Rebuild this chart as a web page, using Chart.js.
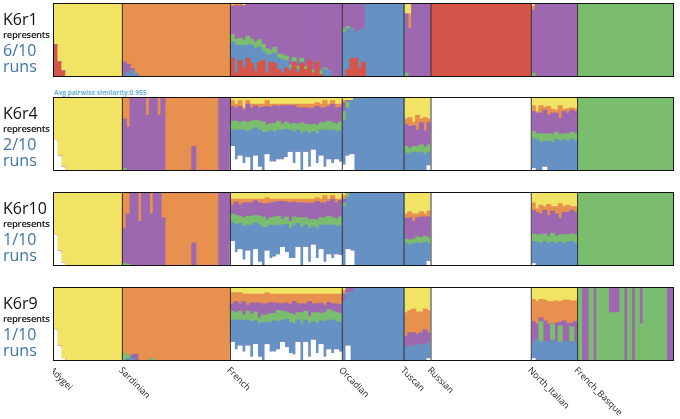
<!DOCTYPE html>
<html>
<head>
<meta charset="utf-8">
<script src="https://cdn.jsdelivr.net/npm/chart.js@4.4.1/dist/chart.umd.min.js"></script>
<style>
  body { margin: 0; background: #fff; font-family: "Open Sans", "Noto Sans", sans-serif; }
  #wrap { position: relative; width: 680px; height: 419px; overflow: hidden; }
  .panel { position: absolute; left: 53px; width: 621px; }
  .box { position: absolute; left: 53px; width: 619px; height: 72px; border: 1.5px solid #111; pointer-events: none; }
  .lab { position: absolute; left: 3px; line-height: 1; }
  .lab .k { font-size: 16px; color: #111; }
  .lab .r { font-size: 9.5px; font-weight: 600; color: #111; margin-top: 3px; letter-spacing: -0.3px; }
  .lab .n { font-size: 16px; color: #3f73a8; margin-top: 2px; }
  .lab .u { font-size: 16px; color: #3f73a8; margin-top: 0px; }
  #sim { position: absolute; left: 54px; top: 88px; font-size: 6.5px; font-weight: bold; color: #6cb3dc; }
</style>
</head>
<body>
<div id="wrap">
  <div id="sim">Avg pairwise similarity:0.955</div>
</div>
<script>
  // cluster order, bottom to top
  const CLUSTERS = [
    { name: "white",  color: "#ffffff" },
    { name: "red",    color: "#d4554a" },
    { name: "blue",   color: "#6591c4" },
    { name: "green",  color: "#7bbd6e" },
    { name: "purple", color: "#9d68b0" },
    { name: "orange", color: "#e8914f" },
    { name: "yellow", color: "#f1e464" }
  ];

  const POPS = ["Adygei", "Sardinian", "French", "Orcadian", "Tuscan", "Russian", "North_Italian", "French_Basque"];

  function rep(n, row) { return Array.from({ length: n }, () => row.slice()); }

  // rows: [white, red, blue, green, purple, orange, yellow] in %
  const runs = [
    {
      id: "K6r1", of: "6/10", top: 3,
      data: {
        Adygei: [[0,43,0,0,0,0,57],[0,20,0,0,0,0,80],[0,8,0,0,0,0,92]].concat(rep(15,[0,0,0,0,0,0,100])),
        Sardinian: [[0,0,0,0,20,80,0],[0,0,5,0,12,83,0],[0,0,8,0,3,89,0],[0,0,4,0,0,96,0]].concat(rep(24,[0,0,0,0,0,100,0])),
        French: [
          [0,25,22,10,38,2,3],[0,5,38,8,45,2,2],[0,22,20,10,44,2,2],[0,12,30,8,46,0,4],
          [0,25,18,12,45,0,0],[0,18,25,8,47,0,2],[0,8,30,9,53,0,0],[0,20,20,10,50,0,0],
          [0,22,12,10,56,0,0],[0,5,25,8,62,0,0],[0,20,10,6,64,0,0],[0,18,14,8,60,0,0],
          [0,10,15,6,69,0,0],[0,5,18,7,70,0,0],[0,12,10,6,72,0,0],[0,8,4,4,84,0,0],
          [0,20,0,6,74,0,0],[0,6,4,4,84,0,2],[0,18,2,5,75,0,0],[0,10,0,4,86,0,0],
          [0,22,0,0,78,0,0],[0,5,0,4,91,0,0],[0,20,0,0,80,0,0],[0,3,0,6,91,0,0],
          [0,0,10,2,88,0,0],[0,0,8,0,92,0,0],[0,0,0,0,100,0,0],[0,0,0,0,100,0,0],[0,0,0,0,100,0,0]
        ],
        Orcadian: [[0,0,60,5,35,0,0],[0,10,55,3,32,0,0],[0,25,40,0,35,0,0],[0,25,35,0,40,0,0],
                   [0,12,50,0,38,0,0],[0,20,45,0,35,0,0]].concat(rep(10,[0,0,100,0,0,0,0])),
        Tuscan: [[0,0,0,5,80,0,15],[0,0,0,0,65,20,15]].concat(rep(5,[0,0,0,0,100,0,0])),
        Russian: rep(26,[0,100,0,0,0,0,0]),
        North_Italian: [[0,0,0,5,85,5,5]].concat(rep(11,[0,0,0,0,100,0,0])),
        French_Basque: rep(25,[0,0,0,100,0,0,0])
      }
    },
    {
      id: "K6r4", of: "2/10", top: 97,
      data: {
        Adygei: [[42,0,0,0,0,0,58],[20,0,0,0,0,0,80],[5,0,0,0,0,0,95]].concat(rep(15,[0,0,0,0,0,0,100])),
        Sardinian: [[0,0,0,3,67,30,0],[0,0,0,0,59,41,0],[0,0,0,0,100,0,0],[0,0,0,0,100,0,0],
                    [0,0,0,0,100,0,0],[0,0,0,0,100,0,0],[0,0,0,0,75,25,0],[0,0,0,0,100,0,0],
                    [0,0,0,0,100,0,0],[0,0,0,0,75,25,0],[0,0,0,0,100,0,0]]
                    .concat(rep(7,[0,0,0,0,0,100,0]), [[0,0,0,0,33,67,0]], rep(6,[0,0,0,0,0,100,0]), rep(3,[0,0,0,0,100,0,0])),
        French: [
          [33,0,22,12,20,8,5],[15,0,40,12,18,5,10],[20,0,35,10,22,8,5],[10,0,45,12,15,3,15],
          [18,0,35,12,25,5,5],[0,0,55,12,18,5,10],[20,0,38,10,20,2,10],[5,0,50,12,18,5,10],
          [0,0,52,14,20,4,10],[22,0,30,10,25,8,5],[12,0,42,10,22,4,10],[12,0,40,12,24,2,10],
          [15,0,40,12,20,3,10],[15,0,40,8,25,2,10],[18,0,38,10,22,2,10],[25,0,30,8,25,2,10],
          [10,0,42,12,24,2,10],[25,0,30,8,22,5,10],[0,0,50,15,20,5,10],[25,0,28,10,22,5,10],
          [5,0,45,12,22,6,10],[28,0,25,10,22,5,10],[10,0,40,12,25,5,8],[20,0,35,10,20,5,10],
          [5,0,50,10,20,10,5],[15,0,40,12,20,3,10],[10,0,45,10,25,5,5],[15,0,38,10,22,5,10],[12,0,42,12,20,4,10]
        ],
        Orcadian: [[8,0,60,12,12,3,5],[20,0,65,8,2,0,5],[22,0,73,0,0,0,5]].concat(rep(13,[0,0,100,0,0,0,0])),
        Tuscan: [[0,0,24,9,30,7,30],[0,0,22,8,30,12,28],[0,0,25,8,28,5,34],[0,0,24,9,22,20,25],
                 [0,0,25,10,30,5,30],[0,0,22,10,22,18,28],[7,0,18,10,30,5,30]],
        Russian: rep(26,[100,0,0,0,0,0,0]),
        North_Italian: [[3,0,40,10,27,8,12],[0,0,42,8,28,2,20],[0,0,38,12,28,10,12],[5,0,35,10,32,4,14],
                        [0,0,40,10,25,12,13],[0,0,38,11,29,5,17],[0,0,42,10,26,4,18],[0,0,40,9,22,17,12],
                        [0,0,42,8,30,3,17],[0,0,40,10,28,6,16],[0,0,43,9,30,3,15],[0,0,40,10,30,4,16]],
        French_Basque: rep(25,[0,0,0,100,0,0,0])
      }
    },
    {
      id: "K6r10", of: "1/10", top: 192,
      data: {
        Adygei: [[42,0,0,0,0,0,58],[20,0,0,0,0,0,80],[4,0,0,0,0,0,96]].concat(rep(15,[0,0,0,0,0,0,100])),
        Sardinian: [[0,0,0,3,47,50,0],[0,0,0,2,68,30,0],[0,0,0,0,100,0,0],[0,0,0,0,100,0,0],
                    [0,0,0,0,60,40,0],[0,0,0,0,100,0,0],[0,0,0,0,100,0,0],[0,0,0,0,70,30,0],
                    [0,0,0,0,100,0,0],[0,0,0,0,100,0,0],[0,0,0,0,65,35,0]]
                    .concat(rep(7,[0,0,0,0,0,100,0]), [[0,0,0,0,31,69,0]], rep(6,[0,0,0,0,0,100,0]), rep(3,[0,0,0,0,100,0,0])),
        French: [
          [33,0,25,12,12,8,10],[18,0,38,12,18,4,10],[22,0,35,10,15,8,10],[8,0,45,12,20,5,10],
          [20,0,35,12,18,5,10],[0,0,55,12,18,5,10],[22,0,36,10,20,2,10],[5,0,50,12,18,5,10],
          [0,0,52,14,18,6,10],[20,0,32,10,22,8,8],[10,0,45,10,20,5,10],[12,0,42,12,20,4,10],
          [15,0,40,12,20,3,10],[25,0,30,8,24,3,10],[18,0,38,10,20,4,10],[10,0,40,10,25,5,10],
          [10,0,44,12,20,4,10],[25,0,32,8,20,5,10],[0,0,52,13,20,5,10],[25,0,30,10,20,5,10],
          [5,0,45,12,22,6,10],[28,0,25,10,22,5,10],[10,0,40,12,25,5,8],[22,0,33,10,20,5,10],
          [5,0,50,10,20,10,5],[15,0,40,12,20,3,10],[10,0,45,10,25,5,5],[15,0,38,10,22,5,10],[14,0,40,12,22,2,10]
        ],
        Orcadian: [[0,0,80,5,5,5,5],[22,0,70,5,0,0,3],[20,0,78,0,0,0,2]].concat(rep(13,[0,0,100,0,0,0,0])),
        Tuscan: [[0,0,30,6,28,6,30],[0,0,28,7,30,8,27],[0,0,30,6,24,10,30],[0,0,31,8,26,5,30],
                 [0,0,30,8,28,7,27],[0,0,32,8,26,4,30],[6,0,24,8,28,8,26]],
        Russian: rep(26,[100,0,0,0,0,0,0]),
        North_Italian: [[3,0,30,10,32,10,15],[0,0,32,10,30,5,23],[0,0,30,12,28,12,18],[0,0,33,10,32,5,20],
                        [0,0,30,10,28,15,17],[0,0,32,12,30,6,20],[0,0,30,10,30,10,20],[0,0,32,10,22,20,16],
                        [0,0,30,12,30,8,20],[0,0,32,10,30,10,18],[0,0,33,10,32,5,20],[0,0,30,12,30,8,20]],
        French_Basque: rep(25,[0,0,0,100,0,0,0])
      }
    },
    {
      id: "K6r9", of: "1/10", top: 287,
      data: {
        Adygei: [[42,0,0,0,0,0,58],[20,0,0,0,0,0,80],[3,0,0,0,0,0,97]].concat(rep(15,[0,0,0,0,0,0,100])),
        Sardinian: [[0,0,0,10,0,90,0],[0,0,3,5,0,92,0],[0,0,3,0,5,92,0],[0,0,0,0,9,91,0]]
                    .concat(rep(3,[0,0,0,0,0,100,0]), [[0,0,0,3,0,97,0]], rep(20,[0,0,0,0,0,100,0])),
        French: [
          [25,0,30,12,10,15,8],[15,0,40,10,15,12,8],[20,0,35,12,10,15,8],[12,0,42,8,18,10,10],
          [20,0,35,12,8,15,10],[5,0,48,10,15,12,10],[22,0,32,12,12,12,10],[5,0,45,8,20,12,10],
          [0,0,52,10,15,13,10],[22,0,30,10,15,15,8],[12,0,40,12,15,11,10],[12,0,42,10,14,12,10],
          [15,0,38,15,10,12,10],[25,0,30,12,10,13,10],[18,0,38,10,12,12,10],[10,0,42,12,12,14,10],
          [8,0,42,12,18,10,10],[25,0,30,10,12,13,10],[0,0,50,15,12,13,10],[25,0,30,12,10,13,10],
          [5,0,45,10,20,10,10],[28,0,25,12,12,13,10],[10,0,40,15,12,13,10],[22,0,32,10,14,12,10],
          [5,0,48,12,10,15,10],[15,0,40,14,10,11,10],[10,0,45,12,10,13,10],[15,0,38,12,12,13,10],[12,0,40,12,12,14,10]
        ],
        Orcadian: [[0,0,80,0,10,5,5],[20,0,72,0,8,0,0],[0,0,92,0,8,0,0]].concat(rep(13,[0,0,100,0,0,0,0])),
        Tuscan: [[0,0,18,0,15,32,35],[0,0,20,0,18,30,32],[0,0,18,0,20,32,30],[0,0,22,0,14,30,34],
                 [0,0,20,0,18,28,34],[0,0,22,0,20,28,30],[3,0,20,0,15,30,32]],
        Russian: rep(26,[100,0,0,0,0,0,0]),
        North_Italian: [[3,0,22,0,28,30,17],[0,0,28,0,22,30,20],[0,0,25,28,5,25,17],[0,0,26,0,28,28,18],
                        [0,0,25,0,25,30,20],[0,0,28,22,0,30,20],[0,0,25,0,26,30,19],[0,0,25,22,5,28,20],
                        [0,0,26,0,28,28,18],[0,0,25,0,25,32,18],[0,0,26,20,5,30,19],[0,0,25,0,28,28,19]],
        French_Basque: [[0,0,0,100,0,0,0],[0,0,0,0,100,0,0],[0,0,0,0,100,0,0],[0,0,0,100,0,0,0],
                        [0,0,0,0,100,0,0],[0,0,0,100,0,0,0],[0,0,0,100,0,0,0],[0,0,0,100,0,0,0],
                        [0,0,0,65,35,0,0],[0,0,0,65,35,0,0],[0,0,0,65,35,0,0],[0,0,0,100,0,0,0],
                        [0,0,0,0,100,0,0],[0,0,0,100,0,0,0],[0,0,0,0,100,0,0],[0,0,0,100,0,0,0],
                        [0,0,0,50,50,0,0],[0,0,0,100,0,0,0],[0,0,0,100,0,0,0],[0,0,0,100,0,0,0],
                        [0,0,0,100,0,0,0],[0,0,0,100,0,0,0],[0,0,0,100,0,0,0],[0,0,0,0,100,0,0],[0,0,0,0,100,0,0]]
      }
    }
  ];

  const wrap = document.getElementById("wrap");
  const PANEL_H = 74;
  const LABEL_SPACE = 58;

  // draws population dividers and (optionally) bottom names
  const dividerPlugin = {
    id: "dividers",
    afterDatasetsDraw(chart, args, opts) {
      const ctx = chart.ctx, x = chart.scales.x, a = chart.chartArea;
      const data = opts.data;
      let idx = 0;
      ctx.save();
      ctx.strokeStyle = "#333";
      ctx.lineWidth = 1;
      POPS.forEach(pop => {
        const left = idx === 0 ? a.left : (x.getPixelForValue(idx - 1) + x.getPixelForValue(idx)) / 2;
        if (idx > 0) {
          ctx.beginPath();
          ctx.moveTo(left, a.top);
          ctx.lineTo(left, a.bottom);
          ctx.stroke();
        }
        if (opts.names) {
          ctx.save();
          ctx.translate(left - 2, a.bottom + 8);
          ctx.rotate(Math.PI / 4);
          ctx.fillStyle = "#222";
          ctx.font = "9px 'Open Sans', sans-serif";
          ctx.textBaseline = "middle";
          ctx.fillText(pop, 0, 0);
          ctx.restore();
        }
        idx += data[pop].length;
      });
      ctx.restore();
    }
  };

  runs.forEach((run, r) => {
    const last = r === runs.length - 1;
    const div = document.createElement("div");
    div.className = "panel";
    div.style.top = run.top + "px";
    div.style.height = (PANEL_H + (last ? LABEL_SPACE : 0)) + "px";
    const canvas = document.createElement("canvas");
    div.appendChild(canvas);
    wrap.appendChild(div);

    const box = document.createElement("div");
    box.className = "box";
    box.style.top = run.top + "px";
    wrap.appendChild(box);

    const lab = document.createElement("div");
    lab.className = "lab";
    lab.style.top = (run.top + 8) + "px";
    lab.innerHTML = `<div class="k">${run.id}</div><div class="r">represents</div><div class="n">${run.of}</div><div class="u">runs</div>`;
    wrap.appendChild(lab);

    let rows = [];
    POPS.forEach(p => { rows = rows.concat(run.data[p]); });
    const labels = rows.map((_, i) => i);

    new Chart(canvas, {
      type: "bar",
      data: {
        labels: labels,
        datasets: CLUSTERS.map((c, k) => ({
          label: c.name,
          data: rows.map(row => row[k]),
          backgroundColor: c.color,
          borderWidth: 0,
          barPercentage: 1,
          categoryPercentage: 1,
          inflateAmount: 0.6
        }))
      },
      options: {
        responsive: true,
        maintainAspectRatio: false,
        animation: false,
        layout: { padding: { bottom: last ? LABEL_SPACE : 0 } },
        plugins: {
          legend: { display: false },
          tooltip: { enabled: false },
          dividers: { names: last, data: run.data }
        },
        scales: {
          x: { stacked: true, display: false },
          y: { stacked: true, display: false, min: 0, max: 100 }
        }
      },
      plugins: [dividerPlugin]
    });
  });
</script>
</body>
</html>
